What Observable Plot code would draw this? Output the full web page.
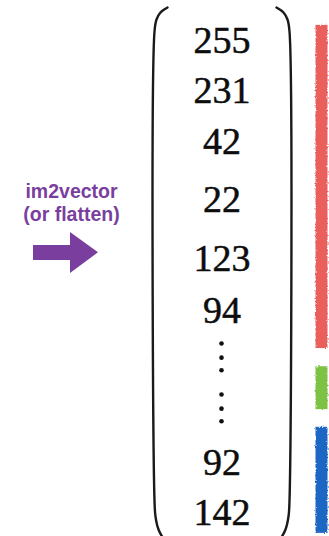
<!DOCTYPE html>
<html><head><meta charset="utf-8">
<script src="https://cdn.jsdelivr.net/npm/d3@7"></script>
<script src="https://cdn.jsdelivr.net/npm/@observablehq/plot@0.6"></script>
<style>
html,body{margin:0;padding:0;background:#fff;overflow:hidden}
</style></head>
<body><div id="chart"></div>
<script>
// ---- data ----
const entries = ["255", "231", "42", "22", "123", "94", "92", "142"];
// vertical place of each entry, in "rows" of the vector
const entryRow = [0, 0.99, 2.0, 3.15, 4.32, 5.35, 8.36, 9.35];
// the two vertical ellipses (three dots each), in rows
const ellipsisRow = [6.0, 6.28, 6.53, 7.01, 7.29, 7.54];
// colour-channel brackets beside the vector
const channels = ["R", "G", "B"];
const channelStart = [-0.30, 6.46, 7.66];
const channelEnd = [6.10, 7.31, 9.76];
const labelLines = ["im2vector", "(or flatten)"];

// ---- layout ----
const W = 329, H = 536;
const ROW0 = 40, ROWH = 50.5;            // centre of first row, row height (px)
const row = px => (px - ROW0) / ROWH;     // layout helper for non-data geometry
const colX = 221.5;
const purple = "#7a3f9e";

const entryData = entries.map((v, i) => ({v, r: entryRow[i]}));
const chanData = channels.map((c, i) => ({c, a: channelStart[i], b: channelEnd[i]}));

const parenL = [[167,7],[160,12],[156,19],[154,31],[154,500],[155,516],[158,529],[164,540]]
  .map(([x, y]) => ({x, y: row(y)}));
const parenR = parenL.map(p => ({x: 443 - p.x, y: p.y}));

const arrow = [
  {x: 33, t: 245, b: 260}, {x: 70, t: 245, b: 260},
  {x: 70, t: 232, b: 273}, {x: 98, t: 252.3, b: 252.3}
].map(d => ({x: d.x, t: row(d.t), b: row(d.b)}));

const labelData = labelLines.map((s, i) => ({s, r: row(191.5 + i * 23)}));

const chart = Plot.plot({
  width: W, height: H, margin: 0,
  x: {domain: [0, W], range: [0, W], axis: null},
  y: {domain: [row(0), row(H)], range: [0, H], axis: null},
  color: {domain: channels, range: ["#e85f5c", "#7dc244", "#1e66c4"]},
  style: {background: "#fff"},
  marks: [
    Plot.rect(chanData, {x1: () => 315.5, x2: () => 327.5, y1: "a", y2: "b", fill: "c"}),
    Plot.line(parenL, {x: "x", y: "y", curve: "catmull-rom", stroke: "#1a1a1a", strokeWidth: 2.4}),
    Plot.line(parenR, {x: "x", y: "y", curve: "catmull-rom", stroke: "#1a1a1a", strokeWidth: 2.4}),
    Plot.text(entryData, {x: () => colX, y: "r", text: "v", fontSize: 38,
      fontFamily: "Liberation Serif, Times New Roman, serif", fill: "#0d0d0d",
      stroke: "#0d0d0d", strokeWidth: 0.5}),
    Plot.dot(ellipsisRow, {x: () => 221, y: d => d, r: 2.3, fill: "#111", stroke: null}),
    Plot.areaY(arrow, {x: "x", y1: "t", y2: "b", fill: purple}),
    Plot.text(labelData, {x: () => 71, y: "r", text: "s", fontSize: 19.5, fontWeight: "bold",
      fontFamily: "Liberation Sans, Arial, sans-serif", fill: purple})
  ]
});

// rough crayon texture for the channel brackets
const ns = "http://www.w3.org/2000/svg";
const defs = document.createElementNS(ns, "defs");
defs.innerHTML = `<filter id="rough" x="-20%" y="-5%" width="140%" height="110%">
  <feTurbulence type="fractalNoise" baseFrequency="0.6" numOctaves="2" seed="3" result="n"/>
  <feDisplacementMap in="SourceGraphic" in2="n" scale="3" xChannelSelector="R" yChannelSelector="G"/>
</filter>`;
chart.insertBefore(defs, chart.firstChild);
const rg = chart.querySelector('g[aria-label="rect"]');
if (rg) rg.setAttribute("filter", "url(#rough)");

document.getElementById("chart").appendChild(chart);
</script>
</body></html>
